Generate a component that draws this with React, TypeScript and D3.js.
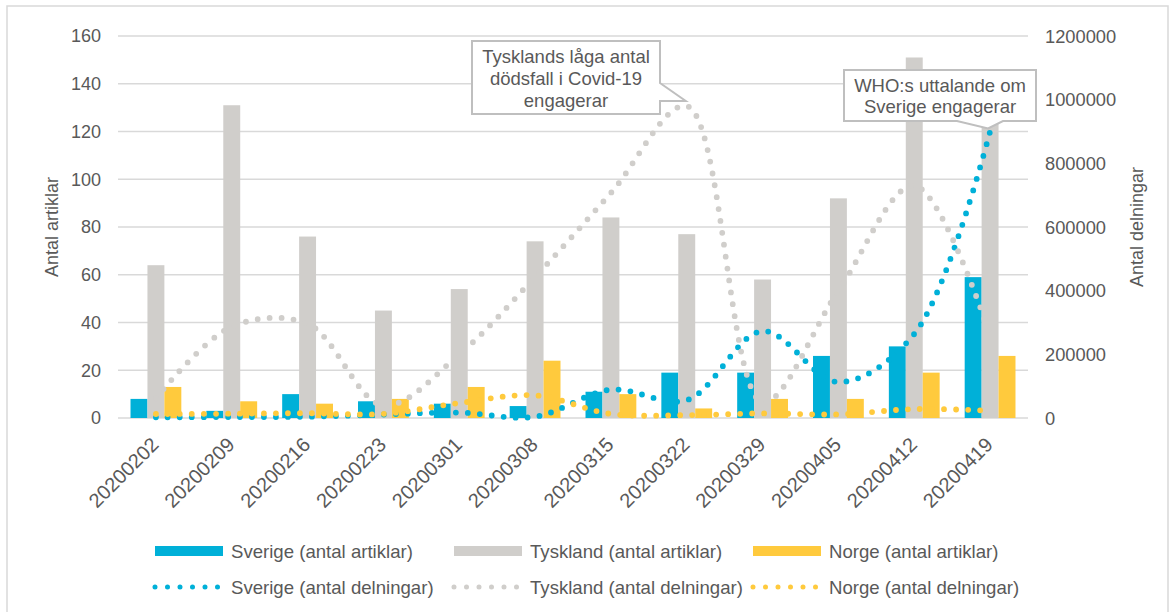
import React from 'react';
import * as d3 from 'd3';

const categories = ['20200202', '20200209', '20200216', '20200223', '20200301', '20200308', '20200315', '20200322', '20200329', '20200405', '20200412', '20200419'];

// antal artiklar (vänster axel)
const sverigeArtiklar = [8, 3, 10, 7, 6, 5, 11, 19, 19, 26, 30, 59];
const tysklandArtiklar = [64, 131, 76, 45, 54, 74, 84, 77, 58, 92, 151, 135];
const norgeArtiklar = [13, 7, 6, 8, 13, 24, 10, 4, 8, 8, 19, 26];

// antal delningar (höger axel)
const sverigeDelningar = [2000, 3000, 4000, 11000, 17000, 4000, 89000, 56000, 273000, 113000, 264000, 900000];
const tysklandDelningar = [62000, 287000, 296000, 40000, 200000, 443000, 707000, 980000, 50000, 400000, 730000, 260000];
const norgeDelningar = [12500, 13500, 15000, 13000, 47000, 71000, 13000, 9000, 14500, 11500, 28000, 23000];

const leftTicks = [0, 20, 40, 60, 80, 100, 120, 140, 160];
const rightTicks = [0, 200000, 400000, 600000, 800000, 1000000, 1200000];

const BLUE = '#00b0d8';
const GRAY = '#d0cecb';
const YELLOW = '#ffca3d';
const TEXT = '#595959';
const GRID = '#d9d9d9';
const FONT = '"Liberation Sans", Arial, sans-serif';

const App: React.FC = () => {
    const width = 1175;
    const height = 612;
    const left = 118;
    const right = 1028;
    const top = 36;
    const bottom = 418;

    const x0 = d3.scaleBand<string>()
        .domain(categories)
        .range([left, right])
        .paddingInner(0.33)
        .paddingOuter(0.165);

    const series = ['sverige', 'tyskland', 'norge'];
    const x1 = d3.scaleBand<string>().domain(series).range([0, x0.bandwidth()]);

    const yL = d3.scaleLinear().domain([0, 160]).range([bottom, top]);
    const yR = d3.scaleLinear().domain([0, 1200000]).range([bottom, top]);

    const cx = (c: string) => (x0(c) as number) + x0.bandwidth() / 2;

    const bars = [
        { key: 'sverige', values: sverigeArtiklar, color: BLUE },
        { key: 'tyskland', values: tysklandArtiklar, color: GRAY },
        { key: 'norge', values: norgeArtiklar, color: YELLOW },
    ];

    const lines = [
        { key: 'sverige', values: sverigeDelningar, color: BLUE },
        { key: 'tyskland', values: tysklandDelningar, color: GRAY },
        { key: 'norge', values: norgeDelningar, color: YELLOW },
    ];

    const lineGen = d3.line<number>()
        .x((d, i) => cx(categories[i]))
        .y((d) => yR(d))
        .curve(d3.curveCatmullRom.alpha(0.5));

    const legendRow1 = [
        { label: 'Sverige (antal artiklar)', color: BLUE, x: 155 },
        { label: 'Tyskland (antal artiklar)', color: GRAY, x: 454 },
        { label: 'Norge (antal artiklar)', color: YELLOW, x: 753 },
    ];
    const legendRow2 = [
        { label: 'Sverige (antal delningar)', color: BLUE, x: 155 },
        { label: 'Tyskland (antal delningar)', color: GRAY, x: 454 },
        { label: 'Norge (antal delningar)', color: YELLOW, x: 753 },
    ];

    // callout tips sit on the data points
    const tip1x = cx('20200322') - 1;
    const tip1y = yR(980000) - 5;
    const tip2x = cx('20200419') - 2;
    const tip2y = yR(900000) - 3;

    return (
        <svg width={width} height={height}
            style={{ position: 'absolute', left: 0, top: 0, background: '#fff' }}
            fontFamily={FONT}>
            <rect x={7} y={6} width={1161} height={640} fill="#fff" stroke={GRID} strokeWidth={1.5} />

            {/* gridlines */}
            {leftTicks.map((t) => (
                <line key={t} x1={left} x2={right} y1={yL(t)} y2={yL(t)} stroke={GRID} strokeWidth={1.7} />
            ))}

            {/* left axis */}
            {leftTicks.map((t) => (
                <text key={t} x={101} y={yL(t)} dy="0.36em" textAnchor="end" fontSize={18} fill={TEXT}>{t}</text>
            ))}
            <text transform={`translate(58, 227) rotate(-90)`} textAnchor="middle" fontSize={18} fill={TEXT}>Antal artiklar</text>

            {/* right axis */}
            {rightTicks.map((t) => (
                <text key={t} x={1045} y={yR(t)} dy="0.36em" textAnchor="start" fontSize={18.3} fill={TEXT}>{t}</text>
            ))}
            <text transform={`translate(1143, 227) rotate(-90)`} textAnchor="middle" fontSize={18} fill={TEXT}>Antal delningar</text>

            {/* x labels */}
            {categories.map((c) => (
                <text key={c} transform={`translate(${cx(c) + 4}, 446) rotate(-45)`} textAnchor="end" fontSize={20} fill={TEXT}>{c}</text>
            ))}

            {/* bars */}
            {bars.map((s) => (
                <g key={s.key}>
                    {s.values.map((v, i) => (
                        <rect key={i}
                            x={(x0(categories[i]) as number) + (x1(s.key) as number)}
                            y={yL(v)}
                            width={x1.bandwidth()}
                            height={bottom - yL(v)}
                            fill={s.color} />
                    ))}
                </g>
            ))}

            {/* dotted smooth lines */}
            {lines.map((s) => (
                <path key={s.key} d={lineGen(s.values) || ''} fill="none" stroke={s.color}
                    strokeWidth={5.8} strokeLinecap="round" strokeDasharray="0 12" />
            ))}

            {/* callout 1 */}
            <path d={`M472,41 H660 V83 L${tip1x},${tip1y} L660,101 V114 H472 Z`} fill="#fff" stroke="#bfbfbf" strokeWidth={2} />
            <text x={566} y={63} textAnchor="middle" fontSize={18.5} fill={TEXT}>Tysklands låga antal</text>
            <text x={566} y={85} textAnchor="middle" fontSize={18.5} fill={TEXT}>dödsfall i Covid-19</text>
            <text x={566} y={107} textAnchor="middle" fontSize={18.5} fill={TEXT}>engagerar</text>

            {/* callout 2 */}
            <path d={`M844,70 H1036 V121 H1003 L${tip2x},${tip2y} L957,121 H844 Z`} fill="#fff" stroke="#bfbfbf" strokeWidth={2} />
            <text x={940} y={92} textAnchor="middle" fontSize={18.5} fill={TEXT}>WHO:s uttalande om</text>
            <text x={940} y={113} textAnchor="middle" fontSize={18.5} fill={TEXT}>Sverige engagerar</text>

            {/* legend */}
            {legendRow1.map((l) => (
                <g key={l.label}>
                    <rect x={l.x} y={546} width={68} height={10} fill={l.color} />
                    <text x={l.x + 76} y={551} dy="0.36em" fontSize={18.6} fill={TEXT}>{l.label}</text>
                </g>
            ))}
            {legendRow2.map((l) => (
                <g key={l.label}>
                    <line x1={l.x} x2={l.x + 64} y1={587} y2={587} stroke={l.color} strokeWidth={5}
                        strokeLinecap="round" strokeDasharray="0 12.5" />
                    <text x={l.x + 76} y={587} dy="0.36em" fontSize={18.6} fill={TEXT}>{l.label}</text>
                </g>
            ))}
        </svg>
    );
};

export default App;
